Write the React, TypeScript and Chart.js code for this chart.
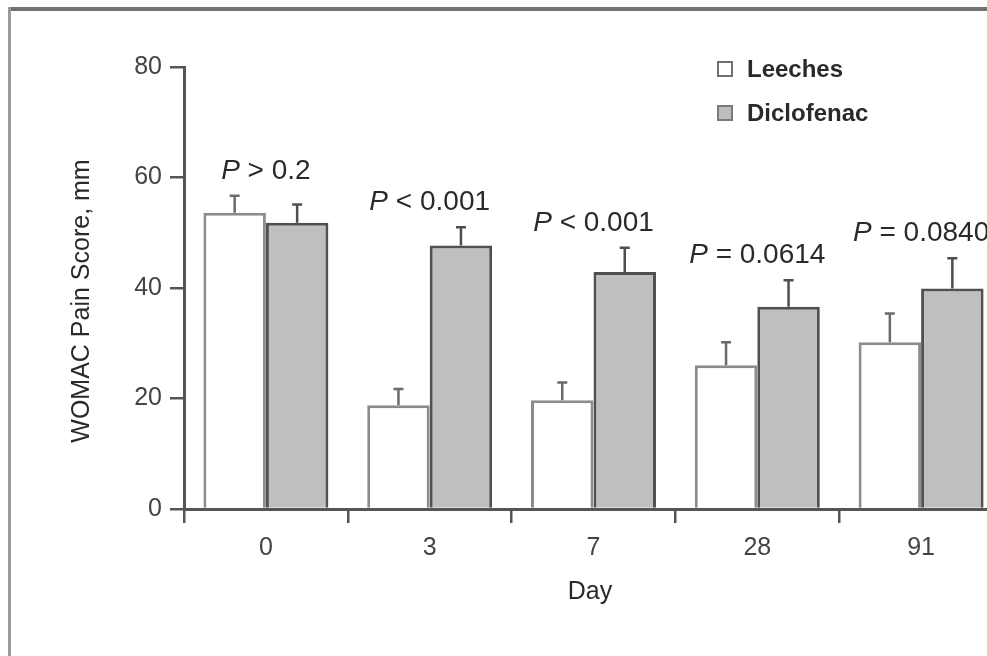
import React, { useEffect, useRef } from "react";
import { Chart, registerables } from "chart.js";

Chart.register(...registerables);

// ---- data ----
const days = ["0", "3", "7", "28", "91"];
const leechesMean = [53.6, 18.8, 19.7, 26.0, 30.2];
const leechesSE = [3.1, 2.9, 3.2, 4.2, 5.2];
const diclofenacMean = [51.8, 47.7, 42.9, 36.6, 39.9];
const diclofenacSE = [3.3, 3.3, 4.4, 4.8, 5.5];
const pValues = ["> 0.2", "< 0.001", "< 0.001", "= 0.0614", "= 0.0840"];
const yTicks = [0, 20, 40, 60, 80];
const seriesNames = ["Leeches", "Diclofenac"];
const yTitle = "WOMAC Pain Score, mm";
const xTitle = "Day";

const FONT = "'Liberation Sans', Arial, Helvetica, sans-serif";
const TEXT = "#2a2a2a";
const AXIS = "#555555";

const overlayPlugin = {
  id: "overlay",
  afterDatasetsDraw(chart: any) {
    const ctx = chart.ctx as CanvasRenderingContext2D;
    const ys = chart.scales.y;
    const xs = chart.scales.x;
    const errs = [leechesSE, diclofenacSE];
    const errColors = ["#6a6a6a", "#4e4e4e"];
    const caps: number[][] = [];
    chart.data.datasets.forEach((ds: any, di: number) => {
      const meta = chart.getDatasetMeta(di);
      caps[di] = [];
      meta.data.forEach((bar: any, i: number) => {
        const top = ys.getPixelForValue(ds.data[i] + errs[di][i]);
        caps[di][i] = top;
        ctx.save();
        ctx.strokeStyle = errColors[di];
        ctx.lineWidth = 2.5;
        ctx.beginPath();
        ctx.moveTo(bar.x, bar.y);
        ctx.lineTo(bar.x, top);
        ctx.moveTo(bar.x - 5, top);
        ctx.lineTo(bar.x + 5, top);
        ctx.stroke();
        ctx.restore();
      });
    });
    // P-value labels above each group
    const size = 28;
    days.forEach((_, i) => {
      const capTop = Math.min(caps[0][i], caps[1][i]);
      const cy = capTop - 27;
      const base = cy + size * 0.358;
      const cx = xs.getPixelForValue(i);
      ctx.save();
      ctx.fillStyle = TEXT;
      ctx.textBaseline = "alphabetic";
      ctx.textAlign = "left";
      const pFont = `italic ${size}px ${FONT}`;
      const rFont = `${size}px ${FONT}`;
      ctx.font = pFont;
      const wP = ctx.measureText("P").width;
      ctx.font = rFont;
      const rest = " " + pValues[i];
      const wR = ctx.measureText(rest).width;
      const x0 = cx - (wP + wR) / 2;
      ctx.font = pFont;
      ctx.fillText("P", x0, base);
      ctx.font = rFont;
      ctx.fillText(rest, x0 + wP, base);
      ctx.restore();
    });
  },
  afterDraw(chart: any) {
    const ctx = chart.ctx as CanvasRenderingContext2D;
    ctx.save();
    ctx.fillStyle = TEXT;
    // axis titles
    ctx.font = `25px ${FONT}`;
    ctx.textAlign = "center";
    ctx.textBaseline = "middle";
    ctx.save();
    ctx.translate(82, 301);
    ctx.rotate(-Math.PI / 2);
    ctx.fillText(yTitle, 0, 0);
    ctx.restore();
    ctx.fillText(xTitle, 590, 592);
    // legend
    const fills = ["#ffffff", "#bdbdbd"];
    const borders = ["#707070", "#7a7a7a"];
    chart.data.datasets.forEach((ds: any, i: number) => {
      const by = 61 + i * 44;
      ctx.fillStyle = fills[i];
      ctx.fillRect(717, by, 16, 16);
      ctx.strokeStyle = borders[i];
      ctx.lineWidth = 2;
      ctx.strokeRect(718, by + 1, 14, 14);
      ctx.fillStyle = TEXT;
      ctx.font = `bold 24px ${FONT}`;
      ctx.textAlign = "left";
      ctx.textBaseline = "middle";
      ctx.fillText(ds.label, 747, by + 9);
    });
    ctx.restore();
  },
};

export default function App() {
  const ref = useRef<HTMLCanvasElement | null>(null);
  useEffect(() => {
    if (!ref.current) return;
    const chart = new Chart(ref.current, {
      type: "bar",
      data: {
        labels: days,
        datasets: [
          {
            label: seriesNames[0],
            data: leechesMean,
            backgroundColor: "#ffffff",
            borderColor: "#8c8c8c",
            borderWidth: 3,
            barPercentage: 1,
            categoryPercentage: 0.763,
          },
          {
            label: seriesNames[1],
            data: diclofenacMean,
            backgroundColor: "#bfbfbf",
            borderColor: "#505050",
            borderWidth: 3,
            barPercentage: 1,
            categoryPercentage: 0.763,
          },
        ],
      },
      options: {
        responsive: false,
        animation: false,
        devicePixelRatio: 1,
        layout: { padding: { top: 67, right: 7, left: 0, bottom: 0 } },
        plugins: { legend: { display: false }, tooltip: { enabled: false } },
        scales: {
          x: {
            afterFit: (s: any) => {
              s.height = 147;
            },
            border: { display: true, color: AXIS, width: 3 },
            grid: {
              display: true,
              offset: true,
              drawOnChartArea: false,
              drawTicks: true,
              tickLength: 14,
              color: AXIS,
              lineWidth: 2.5,
            },
            ticks: {
              color: "#444",
              font: { family: FONT, size: 25 },
              padding: 10,
            },
          },
          y: {
            min: 0,
            max: 80,
            afterFit: (s: any) => {
              s.width = 184;
            },
            afterBuildTicks: (s: any) => {
              s.ticks = yTicks.map((v) => ({ value: v }));
            },
            border: { display: true, color: AXIS, width: 3 },
            grid: {
              display: true,
              drawOnChartArea: false,
              drawTicks: true,
              tickLength: 14,
              color: AXIS,
              lineWidth: 2.5,
            },
            ticks: {
              color: "#444",
              font: { family: FONT, size: 25 },
              padding: 8,
            },
          },
        },
      },
      plugins: [overlayPlugin],
    } as any);
    return () => chart.destroy();
  }, []);

  return (
    <div
      style={{
        position: "fixed",
        left: 0,
        top: 0,
        width: 987,
        height: 656,
        overflow: "hidden",
        background: "#ffffff",
      }}
    >
      <canvas
        ref={ref}
        width={1010}
        height={656}
        style={{ position: "absolute", left: 0, top: 0, width: 1010, height: 656 }}
      />
      <div
        style={{ position: "absolute", left: 8, top: 7, width: 990, height: 4, background: "#727272" }}
      />
      <div
        style={{ position: "absolute", left: 8, top: 7, width: 3, height: 660, background: "#9a9a9a" }}
      />
    </div>
  );
}
